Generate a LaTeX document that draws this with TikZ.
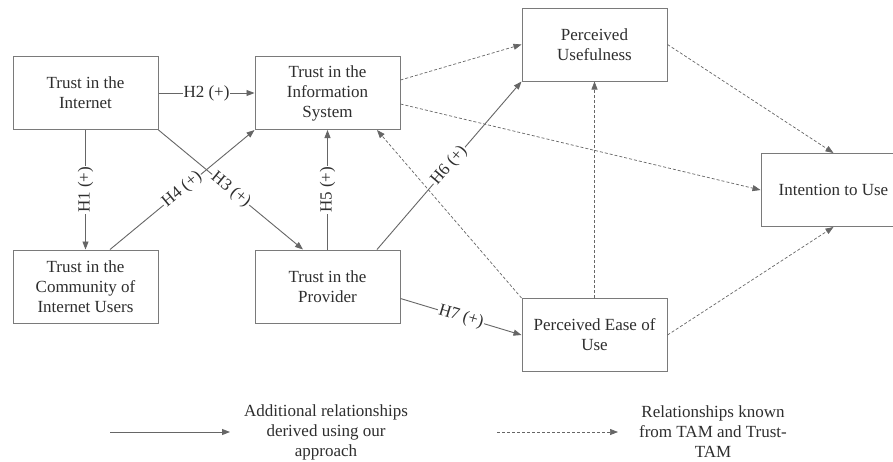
\documentclass[tikz,border=0pt]{standalone}
\usepackage{fontspec}
\setmainfont{Liberation Serif}
\usetikzlibrary{arrows.meta,calc}
\definecolor{linec}{HTML}{666666}
\definecolor{boxc}{HTML}{7A7A7A}
\definecolor{textc}{HTML}{2E2E2E}
\begin{document}
\begin{tikzpicture}[x=1pt,y=-1pt,
  every node/.style={text=textc,font=\fontsize{17}{20}\selectfont},
  cbox/.style={draw=boxc,line width=1pt,minimum width=145pt,minimum height=73pt,inner sep=0pt,align=center},
  solidarr/.style={draw=linec,line width=0.9pt,-{Triangle[length=8pt,width=6pt]}},
  dasharr/.style={draw=linec,line width=0.7pt,dash pattern=on 3pt off 2pt,-{Triangle[length=8pt,width=6pt]}},
  lbl/.style={fill=white,inner sep=1pt}]
\useasboundingbox (0,0) rectangle (893,461);
\fill[white] (0,0) rectangle (893,461);
% boxes
\node[cbox] (inet) at (85.5,93) {Trust in the\\Internet};
\node[cbox] (is) at (327.5,93) {Trust in the\\Information\\System};
\node[cbox] (comm) at (85.5,286.5) {Trust in the\\Community of\\Internet Users};
\node[cbox] (prov) at (327.5,286.5) {Trust in the\\Provider};
\node[cbox] (pu) at (594.5,44.5) {Perceived\\Usefulness};
\node[cbox] (peou) at (594.5,335) {Perceived Ease of\\Use};
\node[cbox] (iu) at (833.5,190) {Intention to Use};
% solid relationships
\draw[solidarr] (inet.east) -- node[lbl]{H2 (+)} (is.west);
\draw[solidarr] (inet.south) -- node[lbl,rotate=90]{H1 (+)} (comm.north);
\draw[solidarr] (inet.south east) -- node[lbl,sloped]{H3 (+)} ($(prov.north)+(-24.5,0)$);
\draw[solidarr] ($(comm.north)+(24.5,0)$) -- node[lbl,sloped]{H4 (+)} (is.south west);
\draw[solidarr] (prov.north) -- node[lbl,sloped]{H5 (+)} (is.south);
\draw[solidarr] ($(prov.north)+(49.5,0)$) -- node[lbl,sloped]{H6 (+)} (pu.south west);
\draw[solidarr] ($(prov.north east)+(0,49)$) -- node[lbl,sloped]{H7 (+)} (peou.west);
% dashed relationships
\draw[dasharr] ($(is.north east)+(0,24)$) -- (pu.west);
\draw[dasharr] ($(is.north east)+(0,48)$) -- (iu.west);
\draw[dasharr] (pu.east) -- (iu.north);
\draw[dasharr] (peou.east) -- (iu.south);
\draw[dasharr] (peou.north) -- (pu.south);
\draw[dasharr] (peou.north west) -- ($(is.south)+(49.5,0)$);
% legend
\coordinate (ls1) at (110,432);
\coordinate (ls2) at (230,432);
\coordinate (ld1) at (497,432);
\coordinate (ld2) at (618,432);
\draw[solidarr] (ls1) -- (ls2);
\draw[dasharr] (ld1) -- (ld2);
\node[align=center,inner sep=0pt] (lt1) at (326,432) {Additional relationships\\derived using our\\approach};
\node[align=center,inner sep=0pt] (lt2) at (713,432) {Relationships known\\from TAM and Trust-\\TAM};
\end{tikzpicture}
\end{document}
